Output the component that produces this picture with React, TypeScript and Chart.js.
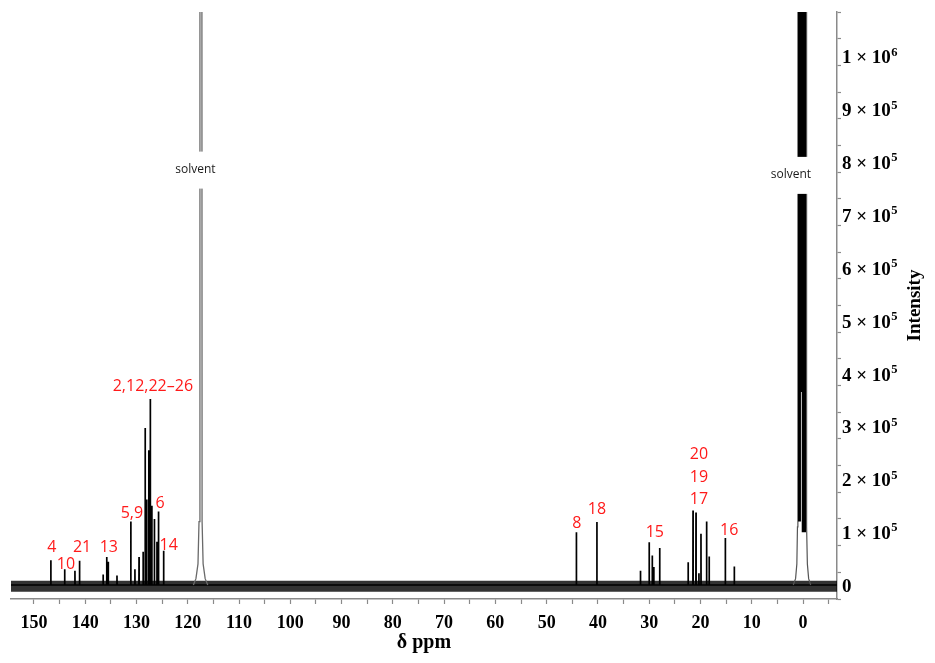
import React, { useEffect, useRef } from 'react';
import { Chart, registerables } from 'chart.js';

Chart.register(...registerables);

// ---- Data (δ ppm, intensity) ----
const PEAK_PPM = [
  146.7, 144.0, 142.0, 141.1, 136.5, 135.8, 135.5, 133.8, 131.1, 130.3, 129.5,
  128.7, 128.3, 128.0, 127.6, 127.3, 127.0, 126.5, 126.0, 125.7, 124.7,
  44.2, 40.2, 31.7, 30.0, 29.4, 29.1, 27.95, 22.4, 21.45, 20.87, 20.3, 19.9,
  18.8, 18.3, 15.15, 13.4,
];
const PEAK_INTENSITY = [
  47000, 30000, 27000, 46000, 20000, 53000, 44000, 18000, 120000, 30000, 53000,
  63000, 297000, 162000, 255000, 352000, 150000, 125000, 82000, 139000, 65000,
  100000, 119000, 27000, 81000, 56000, 34000, 70000, 43000, 141000, 137000, 22000, 97000,
  120000, 54000, 89000, 35000,
];

// solvent peak near 117.5 ppm (profile)
const SOLVENT_A_PPM = [118.9, 118.4, 118.0, 117.8, 117.62, 117.38, 117.2, 117.0, 116.6, 116.1];
const SOLVENT_A_INTENSITY = [0, 12000, 40000, 120000, 5000000, 5000000, 120000, 40000, 12000, 0];

// solvent peak near 0 ppm (outline profile)
const SOLVENT_B_PPM = [1.9, 1.45, 1.2, 1.08, 1.0, -0.6, -0.7, -0.85, -1.1, -1.5];
const SOLVENT_B_INTENSITY = [0, 12000, 40000, 110000, 5000000, 5000000, 110000, 40000, 12000, 0];
// dense (black) parts of the 0 ppm solvent peak: ppm from, ppm to, lower intensity
const SOLVENT_B_DENSE_FROM = [1.0, 0.6, 0.3];
const SOLVENT_B_DENSE_TO = [0.4, 0.1, -0.6];
const SOLVENT_B_DENSE_FLOOR = [120000, 365000, 100000];

// noise baseline
const BASELINE_PPM = [154.47, -6.63];
const BASELINE_INTENSITY = [-2500, -2500];

// ticks
const X_TICK_VALUES = [150, 140, 130, 120, 110, 100, 90, 80, 70, 60, 50, 40, 30, 20, 10, 0];
const X_TICK_LABELS = ['150', '140', '130', '120', '110', '100', '90', '80', '70', '60', '50', '40', '30', '20', '10', '0'];
const Y_TICK_VALUES = [0, 100000, 200000, 300000, 400000, 500000, 600000, 700000, 800000, 900000, 1000000];
const Y_TICK_LABELS = [
  '0', '1 × 10^5', '2 × 10^5', '3 × 10^5', '4 × 10^5', '5 × 10^5', '6 × 10^5', '7 × 10^5', '8 × 10^5', '9 × 10^5', '1 × 10^6',
];

// peak assignment labels
const PEAK_LABEL_TEXT = ['2,12,22–26', '5,9', '6', '14', '4', '10', '21', '13', '8', '18', '15', '17', '19', '20', '16'];
const PEAK_LABEL_PPM = [126.8, 130.9, 125.4, 123.7, 146.5, 143.75, 140.6, 135.4, 44.1, 40.2, 28.9, 20.3, 20.3, 20.3, 14.4];
const PEAK_LABEL_INTENSITY = [376000, 135000, 154000, 74000, 70500, 38000, 70500, 70500, 116000, 142500, 99000, 161500, 203500, 247000, 103000];

const SOLVENT_LABEL_PPM = [118.5, 2.35];
const SOLVENT_LABEL_INTENSITY = [786000, 776000];

const X_MIN = -6.63;
const X_MAX = 154.47;
const Y_MIN = -26500;
const Y_MAX = 1084200;

const SERIF = '"Liberation Serif", "Times New Roman", serif';
const SANS = '"Open Sans", "Noto Sans", sans-serif';

function buildSticks() {
  const idx = PEAK_PPM.map((_, i) => i).sort((a, b) => PEAK_PPM[b] - PEAK_PPM[a]);
  const pts: { x: number; y: number }[] = [{ x: X_MAX, y: 0 }];
  idx.forEach((i) => {
    const p = PEAK_PPM[i];
    pts.push({ x: p + 0.02, y: 0 }, { x: p, y: PEAK_INTENSITY[i] }, { x: p - 0.02, y: 0 });
  });
  pts.push({ x: X_MIN, y: 0 });
  return pts;
}

const zip = (xs: number[], ys: number[]) => xs.map((x, i) => ({ x, y: ys[i] }));

const labelsPlugin = {
  id: 'nmrLabels',
  afterDatasetsDraw(chart: any) {
    const { ctx, scales } = chart;
    const xs = scales.x;
    const ys = scales.y;
    ctx.save();
    // solvent labels with white box
    ctx.font = `12px ${SANS}`;
    ctx.textAlign = 'center';
    ctx.textBaseline = 'middle';
    SOLVENT_LABEL_PPM.forEach((p, i) => {
      const px = xs.getPixelForValue(p);
      const py = ys.getPixelForValue(SOLVENT_LABEL_INTENSITY[i]);
      const w = ctx.measureText('solvent').width + 10;
      ctx.fillStyle = '#ffffff';
      ctx.fillRect(px - w / 2, py - 18, w, 37);
      ctx.fillStyle = '#1a1a1a';
      ctx.fillText('solvent', px, py);
    });
    // red peak labels
    ctx.font = `16px ${SANS}`;
    ctx.fillStyle = '#ff1a1a';
    PEAK_LABEL_TEXT.forEach((t, i) => {
      ctx.fillText(t, xs.getPixelForValue(PEAK_LABEL_PPM[i]), ys.getPixelForValue(PEAK_LABEL_INTENSITY[i]));
    });
    ctx.restore();
  },
  afterDraw(chart: any) {
    const { ctx, chartArea, scales } = chart;
    const ys = scales.y;
    ctx.save();
    ctx.fillStyle = '#000';
    // y tick labels with real superscripts
    ctx.textAlign = 'left';
    ctx.textBaseline = 'middle';
    const x0 = chartArea.right + 5;
    Y_TICK_VALUES.forEach((v, i) => {
      const py = ys.getPixelForValue(v) + 2;
      const [base, exp] = Y_TICK_LABELS[i].split('^');
      ctx.font = `bold 19px ${SERIF}`;
      ctx.fillText(base, x0, py);
      if (exp) {
        const w = ctx.measureText(base).width;
        ctx.font = `bold 12.5px ${SERIF}`;
        ctx.fillText(exp, x0 + w + 0.5, py - 6);
      }
    });
    // y axis title (reads bottom to top)
    ctx.font = `bold 19px ${SERIF}`;
    ctx.textAlign = 'center';
    ctx.translate(915, (chartArea.top + chartArea.bottom) / 2);
    ctx.rotate(-Math.PI / 2);
    ctx.fillText('Intensity', 0, 0);
    ctx.restore();
  },
};

export default function App() {
  const ref = useRef<HTMLCanvasElement | null>(null);

  useEffect(() => {
    if (!ref.current) return;
    const denseSets = SOLVENT_B_DENSE_FROM.map((from, i) => ({
      data: [
        { x: from, y: 5000000 },
        { x: SOLVENT_B_DENSE_TO[i], y: 5000000 },
      ],
      borderWidth: 0,
      borderColor: 'rgba(0,0,0,0)',
      backgroundColor: '#000',
      fill: { value: SOLVENT_B_DENSE_FLOOR[i] },
      pointRadius: 0,
      clip: 0,
    }));
    const chart = new Chart(ref.current, {
      type: 'line',
      data: {
        datasets: [
          ...denseSets,
          {
            data: zip(SOLVENT_B_PPM, SOLVENT_B_INTENSITY),
            borderColor: '#555',
            borderWidth: 1.2,
            pointRadius: 0,
            fill: false,
            clip: 0,
          },
          {
            data: zip(SOLVENT_A_PPM, SOLVENT_A_INTENSITY),
            borderColor: '#6a6a6a',
            borderWidth: 1.3,
            pointRadius: 0,
            fill: false,
            clip: 0,
          },
          {
            data: buildSticks(),
            borderColor: '#000',
            borderWidth: 1.7,
            borderJoinStyle: 'bevel',
            pointRadius: 0,
            fill: false,
            clip: 0,
          },
          {
            data: zip(BASELINE_PPM, BASELINE_INTENSITY),
            borderColor: 'rgba(0,0,0,0.8)',
            borderWidth: 11,
            pointRadius: 0,
            fill: false,
            clip: 0,
          },
        ] as any,
      },
      options: {
        responsive: false,
        animation: false,
        events: [],
        layout: { padding: { left: 11, top: 12, right: 0, bottom: 0 } },
        plugins: { legend: { display: false }, tooltip: { enabled: false } },
        scales: {
          x: {
            type: 'linear',
            reverse: true,
            min: X_MIN,
            max: X_MAX,
            afterFit: (s: any) => {
              s.height = 64;
            },
            border: { display: true, color: '#8a8a8a', width: 1.5 },
            grid: { drawOnChartArea: false, drawTicks: true, tickLength: 5, tickColor: '#8a8a8a', tickWidth: 1.2 },
            ticks: {
              stepSize: 5,
              includeBounds: false,
              autoSkip: false,
              maxRotation: 0,
              padding: 9,
              color: '#000',
              font: { family: SERIF, size: 18, weight: 'bold' },
              callback: (v: any) => {
                const i = X_TICK_VALUES.findIndex((t) => Math.abs(t - Number(v)) < 1e-6);
                return i >= 0 ? X_TICK_LABELS[i] : '';
              },
            },
            title: {
              display: true,
              text: 'δ ppm',
              color: '#000',
              font: { family: SERIF, size: 20, weight: 'bold' },
              padding: { top: 0, bottom: 8 },
            },
          },
          y: {
            type: 'linear',
            position: 'right',
            min: Y_MIN,
            max: Y_MAX,
            afterFit: (s: any) => {
              s.width = 98;
            },
            border: { display: true, color: '#8a8a8a', width: 1.5 },
            grid: { drawOnChartArea: false, drawTicks: true, tickLength: 4, tickColor: '#8a8a8a', tickWidth: 1.2 },
            ticks: {
              stepSize: 50000,
              includeBounds: false,
              autoSkip: false,
              padding: 1,
              callback: () => '',
            },
          },
        },
      } as any,
      plugins: [labelsPlugin],
    });
    return () => chart.destroy();
  }, []);

  return (
    <div style={{ position: 'fixed', left: 0, top: 0, width: 935, height: 663, background: '#fff' }}>
      <canvas ref={ref} width={935} height={663} style={{ display: 'block', width: 935, height: 663 }} />
    </div>
  );
}
